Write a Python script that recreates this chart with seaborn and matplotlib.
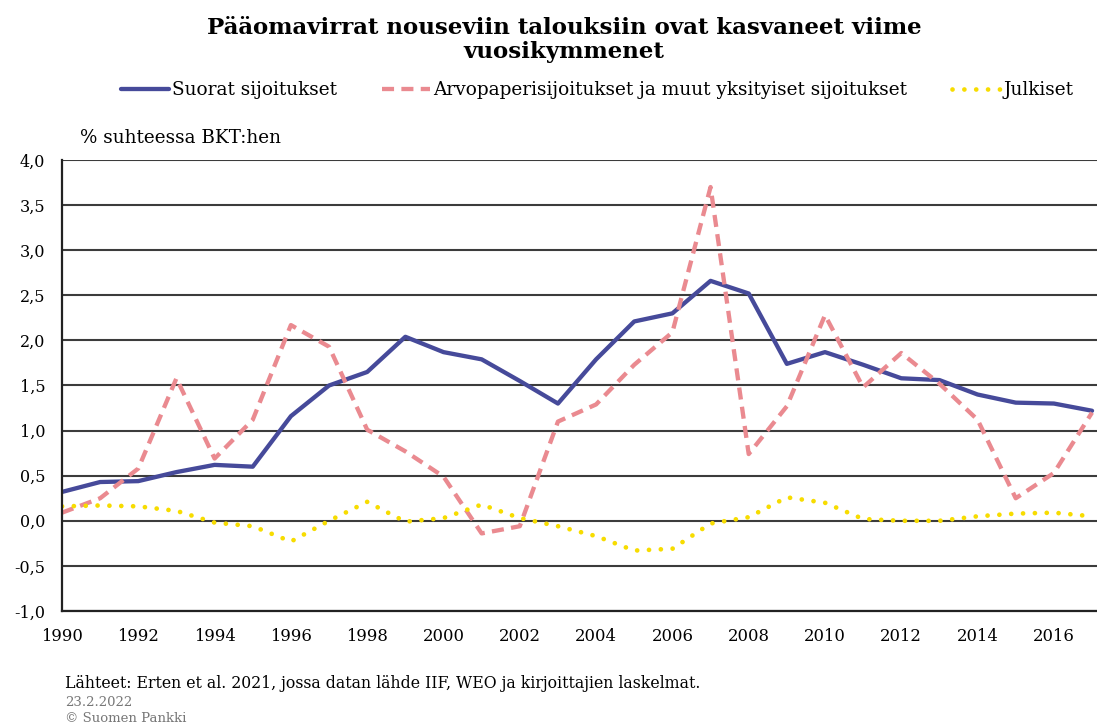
import numpy as np
import pandas as pd
import matplotlib
matplotlib.use("Agg")
import matplotlib.pyplot as plt
from matplotlib.ticker import FuncFormatter, MultipleLocator
import seaborn as sns

years = list(range(1990, 2018))
suorat = [0.32, 0.43, 0.44, 0.54, 0.62, 0.60, 1.16, 1.50, 1.65, 2.04,
          1.87, 1.79, 1.55, 1.30, 1.79, 2.21, 2.30, 2.66, 2.52, 1.74,
          1.87, 1.73, 1.58, 1.56, 1.40, 1.31, 1.30, 1.22]
arvopaperi = [0.09, 0.25, 0.58, 1.58, 0.69, 1.12, 2.17, 1.93, 1.01, 0.77,
              0.49, -0.14, -0.06, 1.10, 1.29, 1.73, 2.09, 3.70, 0.74, 1.27,
              2.28, 1.48, 1.86, 1.52, 1.12, 0.25, 0.53, 1.20]
julkiset = [0.16, 0.17, 0.16, 0.11, -0.02, -0.06, -0.23, 0.00, 0.21, -0.01,
            0.03, 0.18, 0.03, -0.06, -0.17, -0.33, -0.31, -0.03, 0.04, 0.26,
            0.20, 0.02, 0.00, 0.00, 0.05, 0.08, 0.09, 0.05]

series_names = ["Suorat sijoitukset",
                "Arvopaperisijoitukset ja muut yksityiset sijoitukset",
                "Julkiset"]
title = "Pääomavirrat nouseviin talouksiin ovat kasvaneet viime\nvuosikymmenet"
ylabel_txt = "% suhteessa BKT:hen"
source_txt = "Lähteet: Erten et al. 2021, jossa datan lähde IIF, WEO ja kirjoittajien laskelmat."
date_txt = "23.2.2022"
copy_txt = "© Suomen Pankki"

df = pd.DataFrame({"year": years, "s": suorat, "a": arvopaperi, "j": julkiset})

sns.set_style("white")
plt.rcParams["font.family"] = ["DejaVu Serif", "DejaVu Sans"]
plt.rcParams["text.color"] = "black"
plt.rcParams["xtick.color"] = "black"
plt.rcParams["ytick.color"] = "black"

W, H = 1097, 727
fig = plt.figure(figsize=(W / 100, H / 100), dpi=100)
ax = fig.add_axes([62 / W, 1 - 611 / H, (W - 62) / W, (611 - 160) / H])

ax.set_ylim(-1.0, 4.0)
ax.set_xlim(1990, 2017.13)
ax.yaxis.set_major_locator(MultipleLocator(0.5))
ax.grid(axis="y", color="#3c3c3c", linewidth=1.5)
ax.set_axisbelow(True)

blue = "#464a9a"
pink = "#ea8a90"
yellow = "#f7dc00"

sns.lineplot(data=df, x="year", y="s", ax=ax, color=blue, linewidth=3.1,
             label=series_names[0], legend=False)
sns.lineplot(data=df, x="year", y="a", ax=ax, color=pink, linewidth=3.1,
             label=series_names[1], legend=False)
ax.lines[-1].set_dashes([2.8, 1.7])
sns.lineplot(data=df, x="year", y="j", ax=ax, color=yellow, linewidth=3.4,
             label=series_names[2], legend=False)
ax.lines[-1].set_dashes([0.01, 2.5])
ax.lines[-1].set_dash_capstyle("round")

for sp in ["top", "right"]:
    ax.spines[sp].set_visible(False)
for sp in ["left", "bottom"]:
    ax.spines[sp].set_color("#222222")
    ax.spines[sp].set_linewidth(1.6)

ax.set_xticks(list(range(1990, 2017, 2)))
ax.set_xticks(years, minor=True)
ax.tick_params(axis="x", which="both", direction="in", length=6, width=1.2,
               color="#222222", pad=12, labelsize=11.8)
ax.tick_params(axis="y", length=0, pad=12, labelsize=11.5)
ax.yaxis.set_major_formatter(FuncFormatter(lambda v, _: f"{v:.1f}".replace(".", ",")))
ax.set_xlabel("")
ax.set_ylabel("")

fig.text(564 / W, 1 - 40 / H, title, ha="center", va="center",
         fontsize=16.5, fontweight="bold", linespacing=1.12)
fig.text(80 / W, 1 - 138 / H, ylabel_txt, ha="left", va="center", fontsize=13.2)

handles = ax.lines[:3]
leg = fig.legend(handles, series_names, loc="center", bbox_to_anchor=(597 / W, 1 - 90 / H),
                 ncol=3, frameon=False, fontsize=13.3, handlelength=2.6,
                 handletextpad=0.2, columnspacing=2.4)

fig.text(65 / W, 1 - 683 / H, source_txt, ha="left", va="center", fontsize=11.3)
fig.text(65 / W, 1 - 702 / H, date_txt, ha="left", va="center", fontsize=9.5, color="#777777")
fig.text(65 / W, 1 - 718 / H, copy_txt, ha="left", va="center", fontsize=9.5, color="#777777")

fig.savefig("out.png", dpi=100)
